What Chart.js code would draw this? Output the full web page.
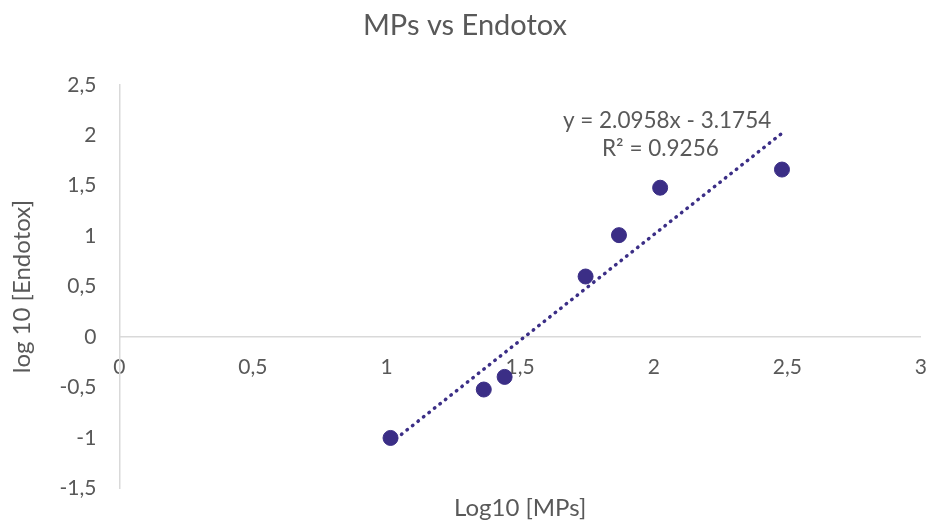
<!DOCTYPE html>
<html>
<head>
<meta charset="utf-8">
<script src="https://cdn.jsdelivr.net/npm/chart.js@4.4.0/dist/chart.umd.min.js"></script>
<style>
  body { margin: 0; background: #fff; }
</style>
</head>
<body>
<canvas id="myChart" width="930" height="524"></canvas>
<script>
// log10 of MPs (x) and log10 of Endotox (y)
const mpsLog = [1.015, 1.364, 1.442, 1.745, 1.870, 2.024, 2.480];
const endotoxLog = [-1.0, -0.52, -0.395, 0.60, 1.01, 1.48, 1.66];

// linear trendline ends
const trendX = [1.015, 2.48];
const trendY = [-1.05, 2.02];

const eqLines = ['y = 2.0958x - 3.1754', 'R\u00b2 = 0.9256'];

const purple = '#3B2E86';
const grey = '#595959';
const fontName = 'Lato, "Open Sans", sans-serif';

const toComma = v => String(v).replace('.', ',');

// draws the trendline equation like Excel does
const eqLabel = {
  id: 'eqLabel',
  afterDatasetsDraw(chart) {
    const ctx = chart.ctx;
    const x = chart.scales.x, y = chart.scales.y;
    ctx.save();
    ctx.font = '22.5px ' + fontName;
    ctx.fillStyle = grey;
    ctx.textAlign = 'center';
    ctx.textBaseline = 'middle';
    ctx.fillText(eqLines[0], x.getPixelForValue(2.05), y.getPixelForValue(2.14));
    ctx.fillText(eqLines[1], x.getPixelForValue(2.025), y.getPixelForValue(1.87));
    ctx.restore();
  }
};

const ctx = document.getElementById('myChart').getContext('2d');
const myChart = new Chart(ctx, {
  type: 'scatter',
  data: {
    datasets: [
      {
        label: 'MPs vs Endotox',
        data: mpsLog.map((v, i) => ({ x: v, y: endotoxLog[i] })),
        backgroundColor: purple,
        borderColor: purple,
        pointRadius: 7.5,
        pointHoverRadius: 7.5
      },
      {
        label: 'Linear',
        data: trendX.map((v, i) => ({ x: v, y: trendY[i] })),
        showLine: true,
        pointRadius: 0,
        borderColor: purple,
        borderWidth: 3.5,
        borderDash: [0.5, 6.5],
        borderCapStyle: 'round'
      }
    ]
  },
  options: {
    responsive: false,
    animation: false,
    layout: { padding: 0 },
    plugins: {
      legend: { display: false },
      tooltip: { enabled: false },
      title: {
        display: true,
        text: 'MPs vs Endotox',
        color: grey,
        font: { family: fontName, size: 29, weight: 'normal' },
        padding: { top: 8, bottom: 42 }
      }
    },
    scales: {
      x: {
        type: 'linear',
        position: { y: 0 },
        min: 0,
        max: 3,
        // invisible tick marks push the labels down from the zero line
        grid: { display: true, drawOnChartArea: false, drawTicks: true, tickLength: 15, color: 'rgba(0,0,0,0)' },
        border: { display: true, color: '#D9D9D9', width: 1.5 },
        ticks: {
          stepSize: 0.5,
          color: grey,
          padding: 3,
          font: { family: fontName, size: 21 },
          callback: toComma
        }
      },
      // only carries the x title at the bottom
      xTitle: {
        type: 'linear',
        axis: 'x',
        position: 'bottom',
        min: 0,
        max: 3,
        grid: { display: false, drawTicks: false },
        border: { display: false },
        ticks: { display: false },
        title: {
          display: true,
          text: 'Log10 [MPs]',
          color: grey,
          font: { family: fontName, size: 24 },
          padding: { top: 5.2, bottom: 0 }
        }
      },
      y: {
        type: 'linear',
        position: 'left',
        min: -1.5,
        max: 2.5,
        grid: { display: false, drawTicks: false },
        border: { display: true, color: '#D9D9D9', width: 1.5 },
        title: {
          display: true,
          text: 'log 10 [Endotox]',
          color: grey,
          font: { family: fontName, size: 24 },
          padding: { top: 7.6, bottom: 0 }
        },
        ticks: {
          stepSize: 0.5,
          color: grey,
          padding: 23,
          font: { family: fontName, size: 21 },
          callback: toComma
        }
      }
    }
  },
  plugins: [eqLabel]
});
</script>
</body>
</html>
